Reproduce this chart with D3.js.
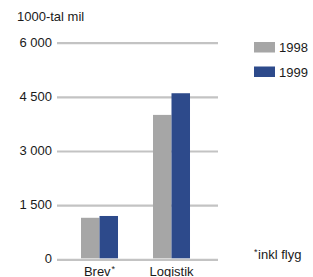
<!DOCTYPE html>
<html><head><meta charset="utf-8">
<script src="https://cdn.jsdelivr.net/npm/d3@7"></script>
<style>
body{margin:0;background:#fff;}
text{font-family:"Liberation Sans",Arial,sans-serif;font-size:13px;fill:#1a1a1a;}
</style></head>
<body>
<script>
const categories = ["Brev", "Logistik"];
const series = ["1998", "1999"];
const values1998 = [1150, 4000];
const values1999 = [1200, 4600];
const yTicks = [0, 1500, 3000, 4500, 6000];
const yTickLabels = ["0", "1 500", "3 000", "4 500", "6 000"];
const colors = ["#a6a6a6", "#2d4a8b"];

const W = 313, H = 277;
const svg = d3.select("body").append("svg").attr("width", W).attr("height", H);

const y = d3.scaleLinear().domain([0, 6000]).range([259.3, 42.7]);
const x0 = d3.scaleBand().domain(categories).range([63.5, 207.5]).paddingInner(0.486).paddingOuter(0.243);
const x1 = d3.scaleBand().domain(series).range([0, x0.bandwidth()]);

// gridlines via axis
const axis = d3.axisLeft(y).tickValues(yTicks).tickSize(-161).tickFormat((d, i) => yTickLabels[i]);
const g = svg.append("g").attr("transform", "translate(218,0)").call(axis);
g.select(".domain").remove();
g.selectAll(".tick line").attr("stroke", "#c3c3c3").attr("stroke-width", 2.2).attr("x1", -161).attr("x2", 0);
g.selectAll(".tick text").attr("x", -166).attr("dy", "0.27em").attr("text-anchor", "end")
  .style("font-size", "13px").style("fill", "#1a1a1a");

// bars
const data = categories.map((c, i) => ({cat: c, vals: [values1998[i], values1999[i]]}));
const groups = svg.selectAll("g.grp").data(data).enter().append("g").attr("class", "grp")
  .attr("transform", d => `translate(${x0(d.cat)},0)`);
groups.selectAll("rect").data(d => d.vals.map((v, j) => ({s: series[j], v, j}))).enter().append("rect")
  .attr("x", d => x1(d.s)).attr("width", x1.bandwidth())
  .attr("y", d => y(d.v)).attr("height", d => y(0) - y(d.v) - 1)
  .attr("fill", d => colors[d.j]);

// category labels
const labelText = ["Brev", "Logistik"];
const labelSup = ["*", ""];
categories.forEach((c, i) => {
  const t = svg.append("text").attr("x", x0(c) + x0.bandwidth() / 2).attr("y", 276).attr("text-anchor", "middle");
  t.append("tspan").text(labelText[i]);
  if (labelSup[i]) t.append("tspan").attr("dy", -4).attr("dx", 1).style("font-size", "9px").text(labelSup[i]);
});

// y-axis title
svg.append("text").attr("x", 17).attr("y", 20.5).text("1000-tal mil");

// legend
series.forEach((s, i) => {
  svg.append("rect").attr("x", 254).attr("y", 42 + i * 24.5).attr("width", 21).attr("height", 10.5).attr("fill", colors[i]);
  svg.append("text").attr("x", 279).attr("y", 52 + i * 24.5).text(s);
});

// footnote
const fn = svg.append("text").attr("x", 254).attr("y", 259);
fn.append("tspan").style("font-size", "9px").attr("dy", -4).text("*");
fn.append("tspan").attr("dy", 4).attr("dx", 0.5).text("inkl flyg");
</script>
</body></html>
